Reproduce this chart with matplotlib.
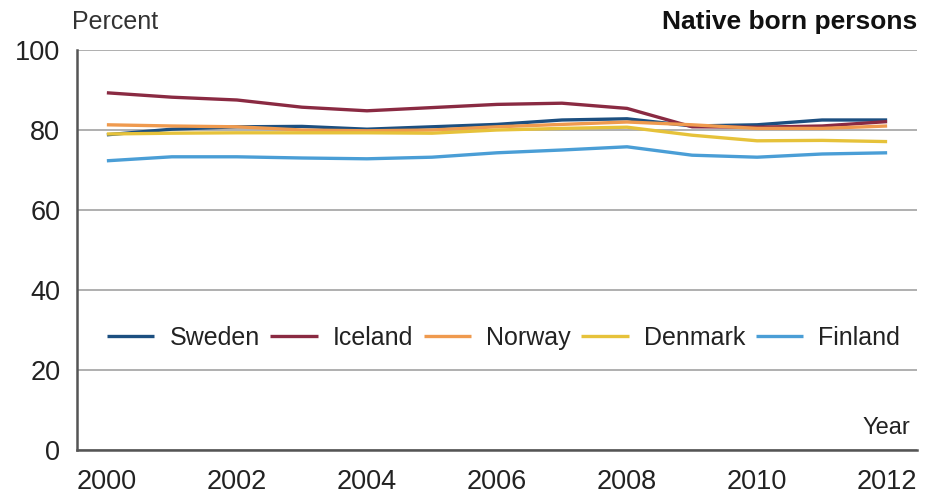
import matplotlib
matplotlib.use('Agg')
import matplotlib.pyplot as plt

plt.rcParams['font.family'] = ['Liberation Sans', 'DejaVu Sans']

####DATA
years = list(range(2000, 2013))
sweden = [78.8, 80.2, 80.8, 80.9, 80.2, 80.8, 81.4, 82.5, 82.8, 81.0, 81.3, 82.5, 82.5]
iceland = [89.3, 88.2, 87.5, 85.7, 84.8, 85.6, 86.4, 86.7, 85.4, 80.8, 80.7, 81.0, 82.1]
norway = [81.3, 81.0, 80.8, 80.0, 79.8, 80.0, 80.8, 81.4, 82.0, 81.3, 80.4, 80.4, 81.0]
denmark = [79.0, 79.2, 79.3, 79.3, 79.3, 79.2, 80.0, 80.4, 80.7, 78.7, 77.3, 77.4, 77.1]
finland = [72.3, 73.3, 73.3, 73.0, 72.8, 73.2, 74.3, 75.0, 75.8, 73.7, 73.2, 74.0, 74.3]

series = [('Sweden', sweden, '#1c4f80'),
          ('Iceland', iceland, '#8a2a42'),
          ('Norway', norway, '#ef9a4e'),
          ('Denmark', denmark, '#e6c23a'),
          ('Finland', finland, '#4a9ed6')]

x_ticks = [2000, 2002, 2004, 2006, 2008, 2010, 2012]
y_ticks = [0, 20, 40, 60, 80, 100]

fig = plt.figure(figsize=(9.25, 4.97), dpi=100)
ax = fig.add_axes([0.0832, 0.0946, 0.9082, 0.8048])

for name, vals, col in series:
    ax.plot(years, vals, color=col, linewidth=2.4, label=name, solid_capstyle='butt')

ax.set_xlim(1999.54, 2012.46)
ax.set_ylim(0, 100)
ax.set_xticks(x_ticks)
ax.set_yticks(y_ticks)
ax.tick_params(axis='both', length=0, labelsize=19.5, colors='#222222')
ax.tick_params(axis='x', pad=14)
ax.tick_params(axis='y', pad=12)

# grid lines, including the top line at 100
ax.yaxis.grid(True, color='#9a9a9a', linewidth=1.1)
ax.set_axisbelow(True)
for s in ['top', 'right']:
    ax.spines[s].set_visible(False)
for s in ['left', 'bottom']:
    ax.spines[s].set_color('#555555')
    ax.spines[s].set_linewidth(1.8)

ax.legend(loc='center left', bbox_to_anchor=(0.0357, 0.28), ncol=5,
          frameon=False, fontsize=18, handlelength=1.9, handletextpad=0.6,
          columnspacing=0.42, borderpad=0, borderaxespad=0,
          labelcolor='#222222')

ax.text(0.9917, 0.055, 'Year', transform=ax.transAxes, ha='right',
        va='center', fontsize=17, color='#222222')
fig.text(0.078, 0.955, 'Percent', ha='left', va='center', fontsize=18,
         color='#333333')
fig.text(0.9914, 0.955, 'Native born persons', ha='right', va='center',
         fontsize=19, fontweight='bold', color='#111111')

plt.savefig('out.png')
